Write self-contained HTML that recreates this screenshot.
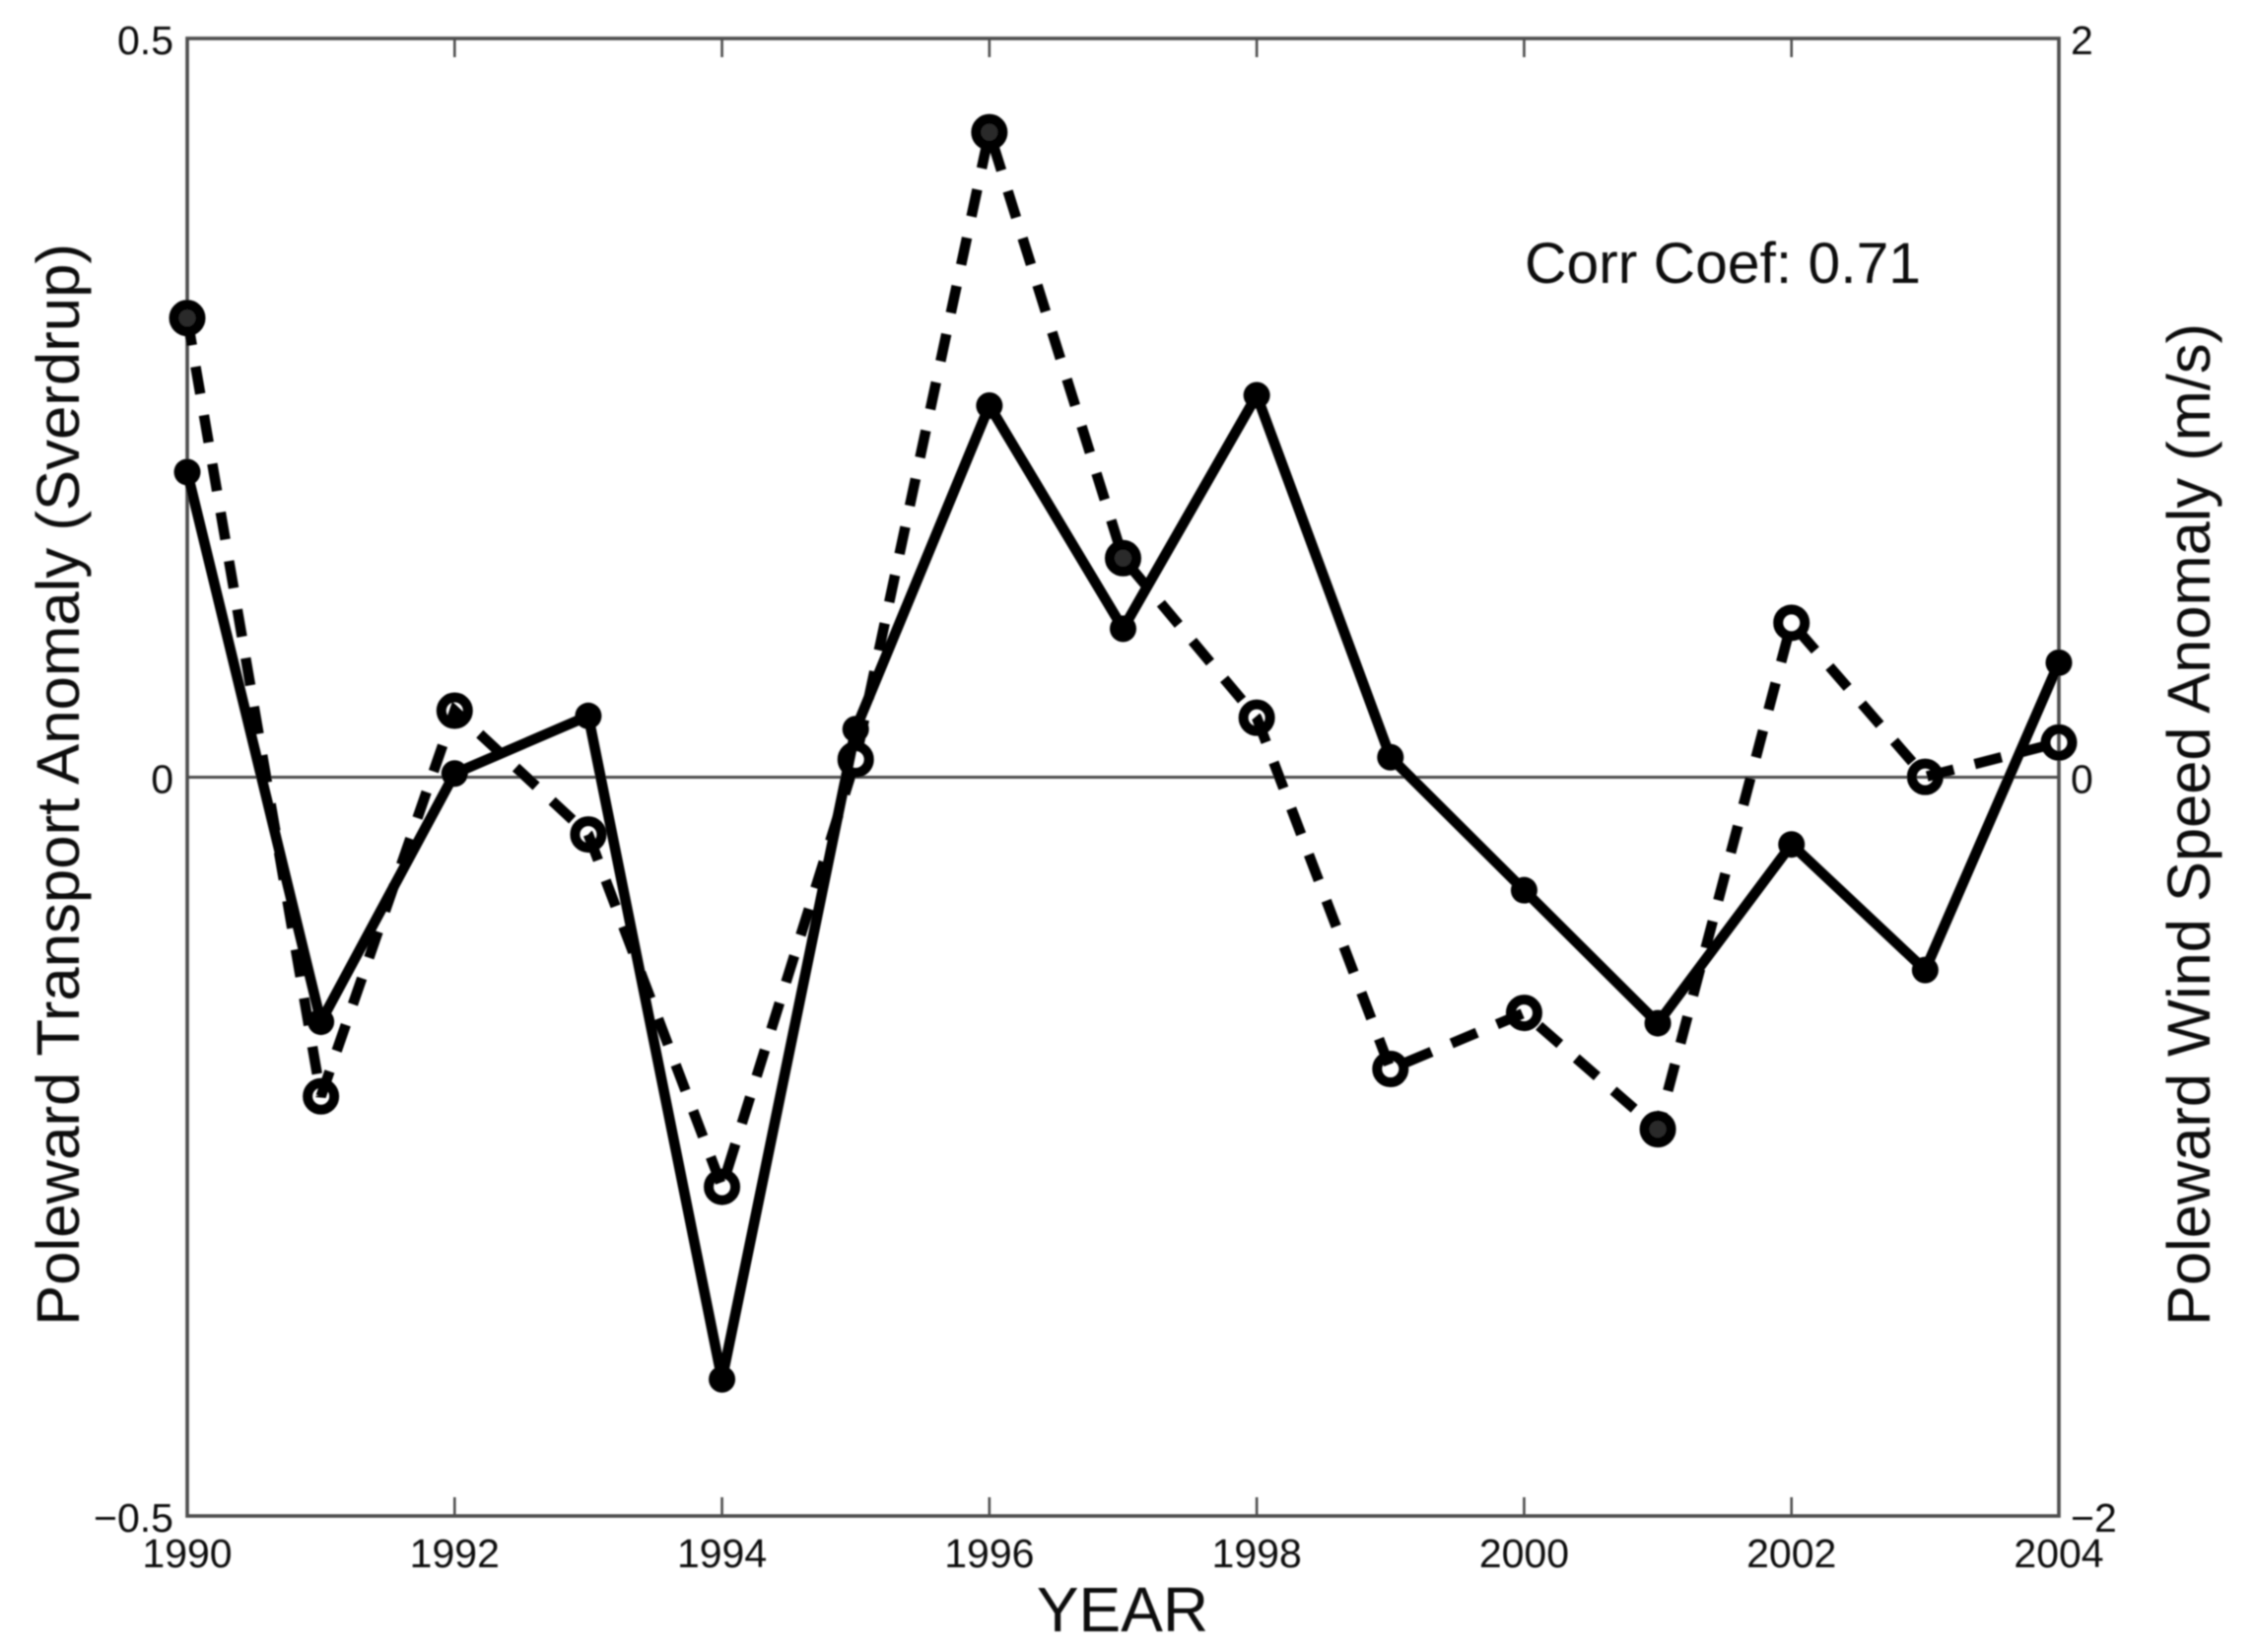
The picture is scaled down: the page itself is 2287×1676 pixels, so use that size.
<!DOCTYPE html>
<html>
<head>
<meta charset="utf-8">
<title>Poleward Transport and Wind Speed Anomaly</title>
<style>
html,body{margin:0;padding:0;background:#fff;}
svg{display:block;}
text{font-family:"Liberation Sans",Arial,sans-serif;fill:#0d0d0d;}
</style>
</head>
<body>
<svg id="chart" width="2287" height="1676" viewBox="0 0 2287 1676" xmlns="http://www.w3.org/2000/svg">
<defs><filter id="soft" x="-5%" y="-5%" width="110%" height="110%"><feGaussianBlur stdDeviation="0.9"/></filter></defs>
<rect width="2287" height="1676" fill="#fff"/>
<g id="root" filter="url(#soft)">
<g id="frame"></g>
<g id="ticks"></g>
<g id="series"></g>
<text transform="translate(80,1345) rotate(-90)" font-size="61" textLength="1098" lengthAdjust="spacingAndGlyphs">Poleward Transport Anomaly (Sverdrup)</text>
<text transform="translate(2242,1345) rotate(-90)" font-size="61" textLength="1017" lengthAdjust="spacingAndGlyphs">Poleward Wind Speed Anomaly (m/s)</text>
<text x="1139" y="1655" font-size="64" text-anchor="middle">YEAR</text>
<text x="1547" y="287" font-size="58" textLength="402" lengthAdjust="spacingAndGlyphs">Corr Coef: 0.71</text>
</g>
</svg>
<script>
const years = [1990,1991,1992,1993,1994,1995,1996,1997,1998,1999,2000,2001,2002,2003,2004];
const transport = [0.2065,-0.1655,0.0025,0.0415,-0.4075,0.0325,0.2515,0.1005,0.2585,0.0135,-0.0765,-0.1665,-0.0455,-0.1305,0.0775];
const windSpeed = [1.243,-0.864,0.180,-0.155,-1.109,0.048,1.746,0.593,0.161,-0.790,-0.638,-0.953,0.418,0.001,0.094];
const xTickLabels = [1990,1992,1994,1996,1998,2000,2002,2004];
const leftTickValues = [-0.5,0,0.5];
const leftTickLabels = ['\u22120.5','0','0.5'];
const rightTickValues = [-2,0,2];
const rightTickLabels = ['\u22122','0','2'];
const cloggedMarkerYears = [1990,1996,1997,2001];

const NS = 'http://www.w3.org/2000/svg';
const L = 190, R = 2089, T = 39, B = 1538;
function xAxis(v){ return L + (v - 1990) / (2004 - 1990) * (R - L); }
function yLeft(v){ return B - (v + 0.5) / 1 * (B - T); }
function yRight(v){ return B - (v + 2) / 4 * (B - T); }
function mk(parent, tag, attrs){
  const e = document.createElementNS(NS, tag);
  for (const k in attrs) e.setAttribute(k, attrs[k]);
  parent.appendChild(e);
  return e;
}
const AXIS = '#4d4d4d';
const frame = document.getElementById('frame');
const ticks = document.getElementById('ticks');
const series = document.getElementById('series');

const box = mk(frame, 'rect', {x:L, y:T, width:R-L, height:B-T, fill:'none', stroke:AXIS, 'stroke-width':3.6});


const zero = mk(frame, 'line', {x1:L, x2:R, y1:yLeft(0), y2:yLeft(0), stroke:AXIS, 'stroke-width':3});



xTickLabels.forEach(function(y){
  const x = xAxis(y);
  if (y !== 1990 && y !== 2004) {
    const a = mk(ticks, 'line', {x1:x, x2:x, y1:B, y2:B-19, stroke:AXIS, 'stroke-width':2.6});
    
    
    const b = mk(ticks, 'line', {x1:x, x2:x, y1:T, y2:T+19, stroke:AXIS, 'stroke-width':2.6});
    
    
  }
  const t = mk(ticks, 'text', {x:x, y:1590, 'font-size':41, 'text-anchor':'middle'});
  t.textContent = y;
  
  
});
leftTickValues.forEach(function(v, i){
  const t = mk(ticks, 'text', {x:L-14, y:yLeft(v)+16, 'font-size':41, 'text-anchor':'end'});
  t.textContent = leftTickLabels[i];
  
  
});
rightTickValues.forEach(function(v, i){
  const t = mk(ticks, 'text', {x:R+12, y:yRight(v)+16, 'font-size':41});
  t.textContent = rightTickLabels[i];
  
  
});

const windPts = years.map(function(y, i){ return xAxis(y) + ',' + yRight(windSpeed[i]); }).join(' ');
const windLine = mk(series, 'polyline', {points:windPts, fill:'none', stroke:'#000', 'stroke-width':10.5, 'stroke-dasharray':'28 22', 'stroke-linejoin':'miter'});



const transportPts = years.map(function(y, i){ return xAxis(y) + ',' + yLeft(transport[i]); }).join(' ');
const transportLine = mk(series, 'polyline', {points:transportPts, fill:'none', stroke:'#000', 'stroke-width':10.5, 'stroke-linejoin':'round'});



years.forEach(function(y, i){
  const clogged = cloggedMarkerYears.indexOf(y) !== -1;
  const c = mk(series, 'circle', {cx:xAxis(y), cy:yRight(windSpeed[i]), r:13.5, fill:clogged ? '#2a2a2a' : 'none', stroke:'#000', 'stroke-width':10});
  
  
});
years.forEach(function(y, i){
  const c = mk(series, 'circle', {cx:xAxis(y), cy:yLeft(transport[i]), r:13.5, fill:'#000'});
  
  
});
</script>
</body>
</html>
